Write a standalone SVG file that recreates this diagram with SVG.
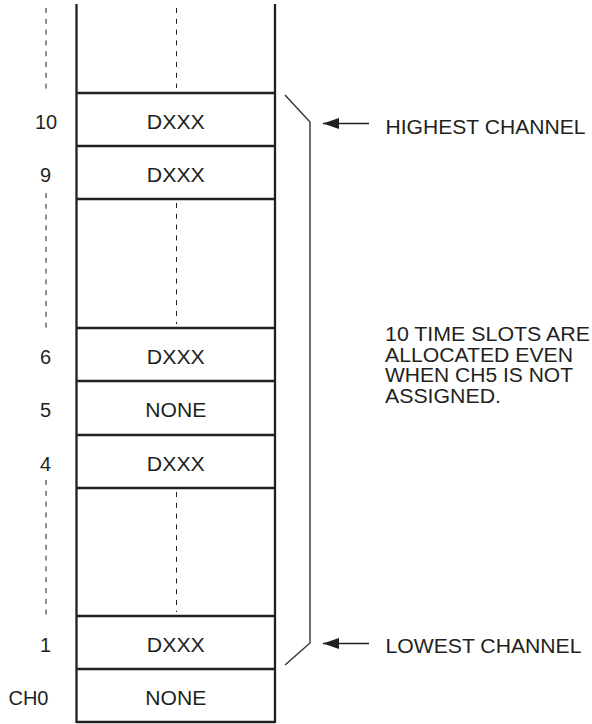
<svg xmlns="http://www.w3.org/2000/svg" width="592" height="724" viewBox="0 0 592 724">
<style>
  text { font-family: "Liberation Sans", Arial, sans-serif; font-size: 20px; fill: #231f20; }
  .c { text-anchor: middle; }
  .border { stroke: #231f20; stroke-width: 2.3; fill: none; }
  .dash { stroke: #231f20; stroke-width: 1; stroke-dasharray: 5 5.8; fill: none; }
  .brk { stroke: #333; stroke-width: 1.4; fill: none; }
  .arr { stroke: #231f20; stroke-width: 1.3; fill: none; }
</style>
<defs>
  <marker id="ah" markerWidth="16" markerHeight="11" refX="16" refY="5.5" orient="auto" markerUnits="userSpaceOnUse">
    <path d="M16,5.5 L0,0 L0,11 Z" fill="#231f20"/>
  </marker>
</defs>
<rect width="592" height="724" fill="#fff"/>

<g id="column">
  <line class="border" x1="76.5" y1="4" x2="76.5" y2="723"/>
  <line class="border" x1="275" y1="4" x2="275" y2="723"/>
  <line class="dash" x1="176.5" y1="8" x2="176.5" y2="88"/>
  <line class="dash" x1="176.5" y1="203" x2="176.5" y2="324"/>
  <line class="dash" x1="176.5" y1="492" x2="176.5" y2="612"/>
  <line class="dash" x1="46" y1="8" x2="46" y2="94"/>
  <line class="dash" x1="46" y1="193" x2="46" y2="333"/>
  <line class="dash" x1="46" y1="480" x2="46" y2="617"/>
</g>

<g id="slot10">
  <line class="border" x1="76.5" y1="93" x2="275" y2="93"/>
  <text class="c" x="46" y="128.5">10</text>
  <text class="c" x="175.8" y="128.5" textLength="58" lengthAdjust="spacingAndGlyphs">DXXX</text>
</g>
<g id="slot9">
  <line class="border" x1="76.5" y1="146" x2="275" y2="146"/>
  <text class="c" x="45.5" y="181.5">9</text>
  <text class="c" x="175.8" y="181.5" textLength="58" lengthAdjust="spacingAndGlyphs">DXXX</text>
  <line class="border" x1="76.5" y1="199" x2="275" y2="199"/>
</g>
<g id="slot6">
  <line class="border" x1="76.5" y1="328" x2="275" y2="328"/>
  <text class="c" x="45.5" y="363.5">6</text>
  <text class="c" x="175.8" y="363.5" textLength="58" lengthAdjust="spacingAndGlyphs">DXXX</text>
</g>
<g id="slot5">
  <line class="border" x1="76.5" y1="381" x2="275" y2="381"/>
  <text class="c" x="45.5" y="417">5</text>
  <text class="c" x="175.8" y="417" textLength="61" lengthAdjust="spacingAndGlyphs">NONE</text>
</g>
<g id="slot4">
  <line class="border" x1="76.5" y1="435" x2="275" y2="435"/>
  <text class="c" x="45.5" y="470.5">4</text>
  <text class="c" x="175.8" y="470.5" textLength="58" lengthAdjust="spacingAndGlyphs">DXXX</text>
  <line class="border" x1="76.5" y1="488" x2="275" y2="488"/>
</g>
<g id="slot1">
  <line class="border" x1="76.5" y1="616" x2="275" y2="616"/>
  <text class="c" x="45.5" y="651.5">1</text>
  <text class="c" x="175.8" y="651.5" textLength="58" lengthAdjust="spacingAndGlyphs">DXXX</text>
</g>
<g id="slot0">
  <line class="border" x1="76.5" y1="669" x2="275" y2="669"/>
  <text x="48.5" y="704.5" style="text-anchor:end">CH0</text>
  <text class="c" x="175.8" y="704.5" textLength="61" lengthAdjust="spacingAndGlyphs">NONE</text>
  <line class="border" x1="76.5" y1="722" x2="275" y2="722"/>
</g>

<g id="bracket">
  <polyline class="brk" points="285,95 310,122 310,643 285,665"/>
</g>

<g id="connectors">
  <line class="arr" x1="369" y1="123.5" x2="323" y2="123.5" marker-end="url(#ah)"/>
  <line class="arr" x1="369" y1="643.5" x2="323" y2="643.5" marker-end="url(#ah)"/>
</g>

<g id="label-highest">
  <text x="385.5" y="134" textLength="200" lengthAdjust="spacingAndGlyphs">HIGHEST CHANNEL</text>
</g>
<g id="label-lowest">
  <text x="385.5" y="652.7" textLength="196" lengthAdjust="spacingAndGlyphs">LOWEST CHANNEL</text>
</g>
<g id="note">
  <text x="385" y="340.7" textLength="205" lengthAdjust="spacingAndGlyphs">10 TIME SLOTS ARE</text>
  <text x="385" y="361.7" textLength="188" lengthAdjust="spacingAndGlyphs">ALLOCATED EVEN</text>
  <text x="385" y="382.3" textLength="188" lengthAdjust="spacingAndGlyphs">WHEN CH5 IS NOT</text>
  <text x="385" y="403" textLength="116" lengthAdjust="spacingAndGlyphs">ASSIGNED.</text>
</g>
</svg>
